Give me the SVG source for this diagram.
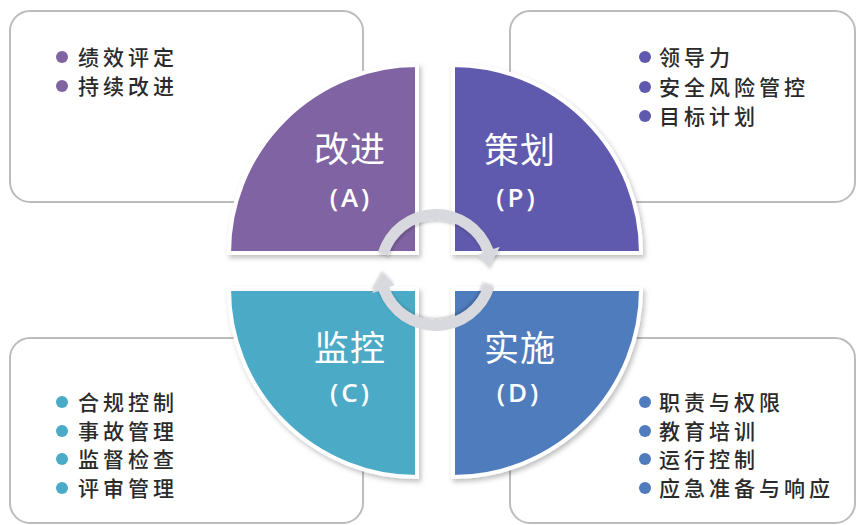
<svg xmlns="http://www.w3.org/2000/svg" width="856" height="525" viewBox="0 0 856 525">
<defs>
<style>
.box{fill:#fff;stroke:#bcbcbc;stroke-width:2}
.q{stroke:#fff;stroke-width:4;filter:url(#sh)}
.t{font-family:"Noto Sans CJK SC","Noto Sans",sans-serif;fill:#fff;font-size:35px;text-anchor:middle;letter-spacing:1px}
.l{font-family:"Open Sans","Noto Sans",sans-serif;fill:#fff;font-size:26px;font-weight:600;text-anchor:middle;letter-spacing:3px}
.li{font-family:"Noto Sans CJK SC",sans-serif;fill:#2a2a2a;font-size:21px;letter-spacing:4px;font-weight:500}
.ar{fill:#d8d8df;filter:url(#sh2)}
</style>
<filter id="sh" x="-10%" y="-10%" width="130%" height="130%">
<feDropShadow dx="2" dy="3" stdDeviation="2.5" flood-color="#000" flood-opacity="0.25"/>
</filter>
<filter id="sh2" x="-20%" y="-20%" width="140%" height="140%">
<feDropShadow dx="1" dy="2" stdDeviation="1.5" flood-color="#000" flood-opacity="0.2"/>
</filter>
</defs>
<rect width="856" height="525" fill="#fff"/>

<g id="box-A">
<rect class="box" x="10" y="11" width="353" height="191" rx="20"/>
<circle cx="62" cy="57" r="6" fill="#8064a2"/>
<circle cx="62" cy="86" r="6" fill="#8064a2"/>
<text class="li" x="78" y="65">绩效评定</text>
<text class="li" x="78" y="94">持续改进</text>
</g>
<g id="box-P">
<rect class="box" x="510" y="11" width="345" height="191" rx="20"/>
<circle cx="645" cy="57" r="6" fill="#5f5aad"/>
<circle cx="645" cy="87" r="6" fill="#5f5aad"/>
<circle cx="645" cy="116" r="6" fill="#5f5aad"/>
<text class="li" x="659" y="65">领导力</text>
<text class="li" x="659" y="95">安全风险管控</text>
<text class="li" x="659" y="124">目标计划</text>
</g>
<g id="box-C">
<rect class="box" x="10" y="338" width="353" height="185" rx="20"/>
<circle cx="62" cy="402" r="6" fill="#4baac6"/>
<circle cx="62" cy="431" r="6" fill="#4baac6"/>
<circle cx="62" cy="459" r="6" fill="#4baac6"/>
<circle cx="62" cy="488" r="6" fill="#4baac6"/>
<text class="li" x="78" y="410">合规控制</text>
<text class="li" x="78" y="438.5">事故管理</text>
<text class="li" x="78" y="467">监督检查</text>
<text class="li" x="78" y="495.5">评审管理</text>
</g>
<g id="box-D">
<rect class="box" x="510" y="338" width="345" height="185" rx="20"/>
<circle cx="645" cy="402" r="6" fill="#507bbc"/>
<circle cx="645" cy="431" r="6" fill="#507bbc"/>
<circle cx="645" cy="459" r="6" fill="#507bbc"/>
<circle cx="645" cy="488" r="6" fill="#507bbc"/>
<text class="li" x="659" y="410">职责与权限</text>
<text class="li" x="659" y="438.5">教育培训</text>
<text class="li" x="659" y="467">运行控制</text>
<text class="li" x="659" y="495.5">应急准备与响应</text>
</g>

<g id="quad-A">
<path class="q" fill="#8064a2" d="M417,253 L229,253 A188,188 0 0,1 417,65 Z"/>
<text class="t" x="350" y="162">改进</text>
<text class="l" x="351" y="207">(A)</text>
</g>
<g id="quad-P">
<path class="q" fill="#5f5aad" d="M453,253 L453,65 A188,188 0 0,1 641,253 Z"/>
<text class="t" x="520" y="163">策划</text>
<text class="l" x="517" y="207">(P)</text>
</g>
<g id="quad-C">
<path class="q" fill="#4baac6" d="M417,289 L417,477 A188,188 0 0,1 229,289 Z"/>
<text class="t" x="350" y="361">监控</text>
<text class="l" x="351" y="402">(C)</text>
</g>
<g id="quad-D">
<path class="q" fill="#507bbc" d="M453,289 L641,289 A188,188 0 0,1 453,477 Z"/>
<text class="t" x="520" y="361">实施</text>
<text class="l" x="519" y="402">(D)</text>
</g>

<g id="connectors">
<path class="ar" d="M377.7,252.2 A61,61 0 0,1 493.3,249.1 L499.9,246.7 L489,267 L477.3,255 L483,252.9 A50,50 0 0,0 388.2,255.4 Z"/>
<path class="ar" transform="rotate(180 436 270)" d="M377.7,252.2 A61,61 0 0,1 493.3,249.1 L499.9,246.7 L489,267 L477.3,255 L483,252.9 A50,50 0 0,0 388.2,255.4 Z"/>
</g>
</svg>
